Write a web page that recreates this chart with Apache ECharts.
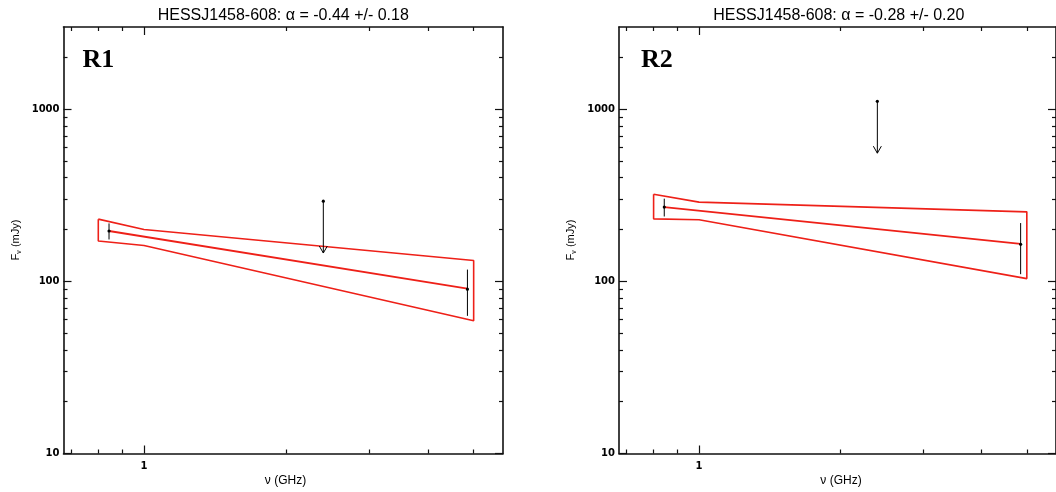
<!DOCTYPE html>
<html>
<head>
<meta charset="utf-8">
<script src="https://cdn.jsdelivr.net/npm/echarts@6/dist/echarts.min.js"></script>
<style>html,body{margin:0;padding:0;background:#fff;}#c{width:1056px;height:492px;}</style>
</head>
<body>
<div id="c"></div>
<script>
// ---- data ----
const panelNames = ['R1', 'R2'];
const titles = ['HESSJ1458-608: \u03b1 = -0.44 +/- 0.18', 'HESSJ1458-608: \u03b1 = -0.28 +/- 0.20'];
// detections: frequency (GHz), flux (mJy), error (mJy)
const detFreq = [0.843, 4.85];
const detFluxR1 = [196, 90];
const detErrR1 = [21, 27];
const detFluxR2 = [270, 164];
const detErrR2 = [32, 54];
// upper limits
const ulFreq = [2.4];
const ulFluxR1 = [292];
const ulFluxR2 = [1110];
// best-fit power law, drawn between detections
const fitFreq = [0.843, 4.85];
const fitFluxR1 = [196, 90.6];
const fitFluxR2 = [270, 165];
// error envelope (bow tie) vertices
const tieFreq = [0.8, 1, 5, 5, 1, 0.8, 0.8];
const tieFluxR1 = [229.7, 200, 132, 59, 161.6, 171.4, 229.7];
const tieFluxR2 = [320.8, 288.3, 253.3, 103.7, 227.7, 230.6, 320.8];
// axes
const xMin = 0.675, xMax = 5.77;
const yMin = 10, yMax = 3000;
const xMajorTicks = [1];
const xMinorTicks = [0.7, 0.8, 0.9, 2, 3, 4, 5];
const yMajorTicks = [10, 100, 1000];
const yMinorTicks = [20, 30, 40, 50, 60, 70, 80, 90, 200, 300, 400, 500, 600, 700, 800, 900, 2000];

const RED = 'rgb(238,32,24)';
const zip = (a, b) => a.map((v, i) => [v, b[i]]);

const grids = [
  {left: 63.5, top: 27, width: 439.5, height: 426.5},
  {left: 619, top: 27, width: 439.5, height: 426.5}
];

const xAxes = [], yAxes = [];
const lineCol = '#111';
function mkX(g, pos, ticks, len, labels, showLine) {
  xAxes.push({
    type: 'log', logBase: 10, gridIndex: g, position: pos, min: xMin, max: xMax,
    axisLine: {show: showLine, lineStyle: {color: lineCol, width: 1.6}},
    axisTick: {show: true, inside: true, length: len, customValues: ticks, lineStyle: {color: lineCol, width: 1.2}},
    axisLabel: labels ? {show: true, customValues: ticks, margin: 8, color: '#000', fontFamily: 'DejaVu Sans', fontWeight: 'bold', fontSize: 10,
      formatter: v => String(Math.round(v))} : {show: false},
    splitLine: {show: false}, minorTick: {show: false}
  });
  return xAxes.length - 1;
}
function mkY(g, pos, ticks, len, labels, showLine) {
  yAxes.push({
    type: 'log', logBase: 10, gridIndex: g, position: pos, min: yMin, max: yMax,
    axisLine: {show: showLine, lineStyle: {color: lineCol, width: 1.6}},
    axisTick: {show: true, inside: true, length: len, customValues: ticks, lineStyle: {color: lineCol, width: 1.2}},
    axisLabel: labels ? {show: true, customValues: ticks, margin: 4, color: '#000', fontFamily: 'DejaVu Sans', fontWeight: 'bold', fontSize: 10,
      formatter: v => String(Math.round(v))} : {show: false},
    splitLine: {show: false}, minorTick: {show: false}
  });
  return yAxes.length - 1;
}

const mainX = [], mainY = [];
for (let g = 0; g < 2; g++) {
  mainX.push(mkX(g, 'bottom', xMajorTicks, 8, true, true));
  mkX(g, 'bottom', xMinorTicks, 4, false, false);
  mkX(g, 'top', xMajorTicks, 8, false, true);
  mkX(g, 'top', xMinorTicks, 4, false, false);
  mainY.push(mkY(g, 'left', yMajorTicks, 8, true, true));
  mkY(g, 'left', yMinorTicks, 4, false, false);
  mkY(g, 'right', yMajorTicks, 8, false, true);
  mkY(g, 'right', yMinorTicks, 4, false, false);
}

function renderErr(params, api) {
  const x = api.value(0), y = api.value(1), e = api.value(2);
  const p = api.coord([x, y]);
  const hi = api.coord([x, y + e]);
  const lo = api.coord([x, y - e]);
  return {type: 'group', children: [
    {type: 'line', shape: {x1: hi[0], y1: hi[1], x2: lo[0], y2: lo[1]}, style: {stroke: '#000', lineWidth: 1}},
    {type: 'circle', shape: {cx: p[0], cy: p[1], r: 1.6}, style: {fill: '#000'}}
  ]};
}
function renderUL(params, api) {
  const x = api.value(0), y = api.value(1);
  const p = api.coord([x, y]);
  const t = api.coord([x, y / 2]);
  return {type: 'group', children: [
    {type: 'line', shape: {x1: p[0], y1: p[1], x2: t[0], y2: t[1]}, style: {stroke: '#000', lineWidth: 1}},
    {type: 'polyline', shape: {points: [[t[0] - 4, t[1] - 7], [t[0], t[1]], [t[0] + 4, t[1] - 7]]}, style: {stroke: '#000', lineWidth: 1, fill: null}},
    {type: 'circle', shape: {cx: p[0], cy: p[1], r: 1.6}, style: {fill: '#000'}}
  ]};
}

const series = [];
const tieFlux = [tieFluxR1, tieFluxR2];
const fitFlux = [fitFluxR1, fitFluxR2];
const detFlux = [detFluxR1, detFluxR2];
const detErr = [detErrR1, detErrR2];
const ulFlux = [ulFluxR1, ulFluxR2];
for (let g = 0; g < 2; g++) {
  series.push({
    type: 'line', xAxisIndex: mainX[g], yAxisIndex: mainY[g], data: zip(tieFreq, tieFlux[g]),
    showSymbol: false, symbol: 'none', lineStyle: {color: RED, width: 1.6}, silent: true, z: 2
  });
  series.push({
    type: 'line', xAxisIndex: mainX[g], yAxisIndex: mainY[g], data: zip(fitFreq, fitFlux[g]),
    showSymbol: false, symbol: 'none', lineStyle: {color: RED, width: 1.8}, silent: true, z: 2
  });
  series.push({
    type: 'custom', coordinateSystem: 'cartesian2d', xAxisIndex: mainX[g], yAxisIndex: mainY[g],
    data: detFreq.map((f, i) => [f, detFlux[g][i], detErr[g][i]]), renderItem: renderErr, z: 3, silent: true
  });
  series.push({
    type: 'custom', coordinateSystem: 'cartesian2d', xAxisIndex: mainX[g], yAxisIndex: mainY[g],
    data: ulFreq.map((f, i) => [f, ulFlux[g][i]]), renderItem: renderUL, z: 3, silent: true
  });
}

const graphics = [];
for (let g = 0; g < 2; g++) {
  const gr = grids[g];
  const cx = gr.left + gr.width / 2;
  graphics.push({type: 'text', x: cx, y: 16, style: {text: titles[g], fontFamily: 'Liberation Sans', fontSize: 16, fill: '#000', textAlign: 'center', textVerticalAlign: 'middle'}});
  graphics.push({type: 'text', x: gr.left + (g === 0 ? 19 : 22), y: 60, style: {text: panelNames[g], fontFamily: 'Liberation Serif', fontWeight: 'bold', fontSize: 26, fill: '#000', textAlign: 'left', textVerticalAlign: 'middle'}});
  graphics.push({type: 'text', x: gr.left + 222, y: 481, style: {text: '\u03bd (GHz)', fontFamily: 'Liberation Sans', fontSize: 12, fill: '#000', textAlign: 'center', textVerticalAlign: 'middle'}});
  graphics.push({type: 'text', x: gr.left - 48, y: 240, rotation: Math.PI / 2,
    style: {text: 'F{s|\u03bd} (mJy)', fontFamily: 'Liberation Sans', fontSize: 11, fill: '#000', textAlign: 'center', textVerticalAlign: 'middle',
      rich: {s: {fontSize: 7, fontFamily: 'Liberation Sans', fill: '#000', padding: [7, 0, 0, 0]}}}});
}

const chart = echarts.init(document.getElementById('c'), null, {renderer: 'canvas'});
chart.setOption({
  animation: false,
  backgroundColor: '#fff',
  grid: grids,
  xAxis: xAxes,
  yAxis: yAxes,
  series: series,
  graphic: graphics
});
</script>
</body>
</html>
